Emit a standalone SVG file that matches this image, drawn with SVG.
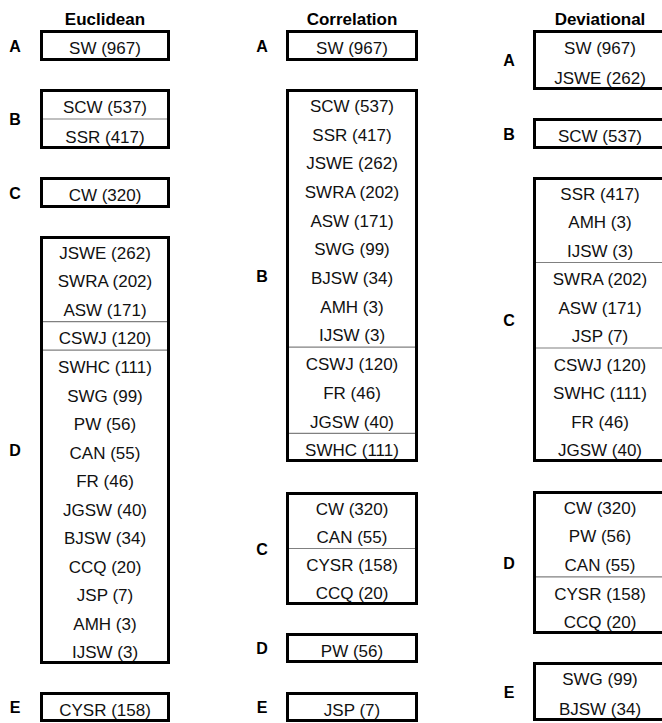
<svg xmlns="http://www.w3.org/2000/svg" width="662" height="723" viewBox="0 0 662 723">
<style>
.bx{fill:#fff;stroke:#000;stroke-width:3}
.sep{stroke:#808080;stroke-width:1.2}
.t{font-family:"Liberation Sans",Arial,sans-serif;font-size:17px;fill:#111;text-anchor:middle}
.h{font-family:"Liberation Sans",Arial,sans-serif;font-size:17px;font-weight:bold;fill:#000;text-anchor:middle}
.l{font-family:"Liberation Sans",Arial,sans-serif;font-size:16px;font-weight:bold;fill:#000;text-anchor:middle}
</style>
<rect width="662" height="723" fill="#fff"/>
<g id="titles">
<text class="h" x="105" y="25">Euclidean</text>
<text class="h" x="352" y="25">Correlation</text>
<text class="h" x="600" y="25">Deviational</text>
</g>
<g id="connectors"></g>
<!-- Euclidean -->
<g id="euc-A">
<text class="l" x="15" y="51.5">A</text>
<rect class="bx" x="41.5" y="31.5" width="127" height="28"/>
<text class="t" x="105" y="54">SW (967)</text>
</g>
<g id="euc-B">
<text class="l" x="15" y="125">B</text>
<rect class="bx" x="41.5" y="90.5" width="127" height="57"/>
<line class="sep" x1="43" y1="119" x2="167" y2="119"/>
<text class="t" x="105" y="112.5">SCW (537)</text>
<text class="t" x="105" y="142.5">SSR (417)</text>
</g>
<g id="euc-C">
<text class="l" x="15" y="198.5">C</text>
<rect class="bx" x="41.5" y="178.5" width="127" height="28"/>
<text class="t" x="105" y="201">CW (320)</text>
</g>
<g id="euc-D">
<text class="l" x="15" y="456">D</text>
<rect class="bx" x="41.5" y="237.5" width="127" height="425"/>
<line class="sep" x1="43" y1="321.6" x2="167" y2="321.6"/>
<line class="sep" x1="43" y1="350.1" x2="167" y2="350.1"/>
<text class="t" x="105" y="258.8">JSWE (262)</text>
<text class="t" x="105" y="287.3">SWRA (202)</text>
<text class="t" x="105" y="315.9">ASW (171)</text>
<text class="t" x="105" y="344.4">CSWJ (120)</text>
<text class="t" x="105" y="372.9">SWHC (111)</text>
<text class="t" x="105" y="401.5">SWG (99)</text>
<text class="t" x="105" y="430">PW (56)</text>
<text class="t" x="105" y="458.5">CAN (55)</text>
<text class="t" x="105" y="487.1">FR (46)</text>
<text class="t" x="105" y="515.6">JGSW (40)</text>
<text class="t" x="105" y="544.1">BJSW (34)</text>
<text class="t" x="105" y="572.7">CCQ (20)</text>
<text class="t" x="105" y="601.2">JSP (7)</text>
<text class="t" x="105" y="629.7">AMH (3)</text>
<text class="t" x="105" y="658.3">IJSW (3)</text>
</g>
<g id="euc-E">
<text class="l" x="15" y="713">E</text>
<rect class="bx" x="41.5" y="693.5" width="127" height="27"/>
<text class="t" x="105" y="715.5">CYSR (158)</text>
</g>
<!-- Correlation -->
<g id="cor-A">
<text class="l" x="262" y="51.5">A</text>
<rect class="bx" x="287.5" y="31.5" width="129" height="28"/>
<text class="t" x="352" y="54">SW (967)</text>
</g>
<g id="cor-B">
<text class="l" x="262" y="281.5">B</text>
<rect class="bx" x="287.5" y="90.5" width="129" height="370"/>
<line class="sep" x1="289" y1="347.2" x2="415" y2="347.2"/>
<line class="sep" x1="289" y1="433.3" x2="415" y2="433.3"/>
<text class="t" x="352" y="111.8">SCW (537)</text>
<text class="t" x="352" y="140.5">SSR (417)</text>
<text class="t" x="352" y="169.2">JSWE (262)</text>
<text class="t" x="352" y="197.9">SWRA (202)</text>
<text class="t" x="352" y="226.6">ASW (171)</text>
<text class="t" x="352" y="255.3">SWG (99)</text>
<text class="t" x="352" y="284">BJSW (34)</text>
<text class="t" x="352" y="312.7">AMH (3)</text>
<text class="t" x="352" y="341.4">IJSW (3)</text>
<text class="t" x="352" y="370.1">CSWJ (120)</text>
<text class="t" x="352" y="398.8">FR (46)</text>
<text class="t" x="352" y="427.5">JGSW (40)</text>
<text class="t" x="352" y="456.2">SWHC (111)</text>
</g>
<g id="cor-C">
<text class="l" x="262" y="554.5">C</text>
<rect class="bx" x="287.5" y="493.5" width="129" height="110"/>
<line class="sep" x1="289" y1="548.5" x2="415" y2="548.5"/>
<text class="t" x="352" y="514.6">CW (320)</text>
<text class="t" x="352" y="542.9">CAN (55)</text>
<text class="t" x="352" y="571.1">CYSR (158)</text>
<text class="t" x="352" y="599.4">CCQ (20)</text>
</g>
<g id="cor-D">
<text class="l" x="262" y="654">D</text>
<rect class="bx" x="287.5" y="634.5" width="129" height="27"/>
<text class="t" x="352" y="656.5">PW (56)</text>
</g>
<g id="cor-E">
<text class="l" x="262" y="713">E</text>
<rect class="bx" x="287.5" y="693.5" width="129" height="27"/>
<text class="t" x="352" y="715.5">JSP (7)</text>
</g>
<!-- Deviational -->
<g id="dev-A">
<text class="l" x="509" y="66">A</text>
<rect class="bx" x="534.5" y="31.5" width="131" height="57"/>
<text class="t" x="600" y="53.5">SW (967)</text>
<text class="t" x="600" y="83.5">JSWE (262)</text>
</g>
<g id="dev-B">
<text class="l" x="509" y="139.5">B</text>
<rect class="bx" x="534.5" y="119.5" width="131" height="28"/>
<text class="t" x="600" y="142">SCW (537)</text>
</g>
<g id="dev-C">
<text class="l" x="509" y="325.5">C</text>
<rect class="bx" x="534.5" y="178.5" width="131" height="282"/>
<line class="sep" x1="536" y1="262.5" x2="664" y2="262.5"/>
<line class="sep" x1="536" y1="348" x2="664" y2="348"/>
<text class="t" x="600" y="199.8">SSR (417)</text>
<text class="t" x="600" y="228.3">AMH (3)</text>
<text class="t" x="600" y="256.8">IJSW (3)</text>
<text class="t" x="600" y="285.3">SWRA (202)</text>
<text class="t" x="600" y="313.8">ASW (171)</text>
<text class="t" x="600" y="342.3">JSP (7)</text>
<text class="t" x="600" y="370.8">CSWJ (120)</text>
<text class="t" x="600" y="399.3">SWHC (111)</text>
<text class="t" x="600" y="427.8">FR (46)</text>
<text class="t" x="600" y="456.3">JGSW (40)</text>
</g>
<g id="dev-D">
<text class="l" x="509" y="568.5">D</text>
<rect class="bx" x="534.5" y="492.5" width="131" height="140"/>
<line class="sep" x1="536" y1="576.8" x2="664" y2="576.8"/>
<text class="t" x="600" y="513.8">CW (320)</text>
<text class="t" x="600" y="542.4">PW (56)</text>
<text class="t" x="600" y="571">CAN (55)</text>
<text class="t" x="600" y="599.6">CYSR (158)</text>
<text class="t" x="600" y="628.2">CCQ (20)</text>
</g>
<g id="dev-E">
<text class="l" x="509" y="697.5">E</text>
<rect class="bx" x="534.5" y="663.5" width="131" height="56"/>
<text class="t" x="600" y="685.3">SWG (99)</text>
<text class="t" x="600" y="714.8">BJSW (34)</text>
</g>
</svg>
